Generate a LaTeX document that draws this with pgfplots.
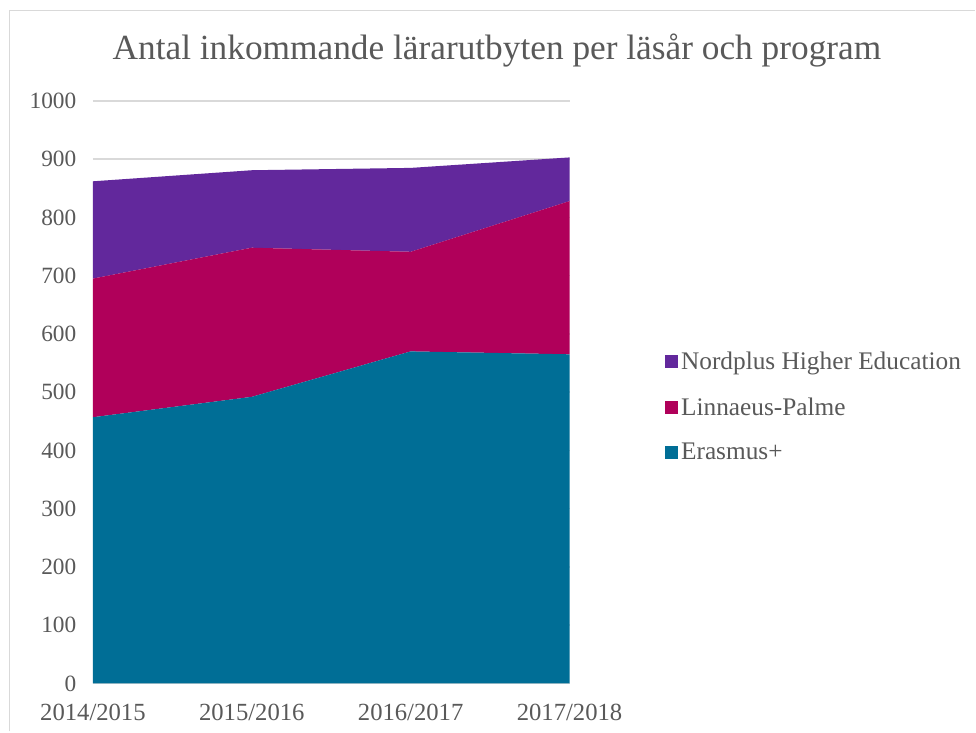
\documentclass[border=0pt]{standalone}
\usepackage{fontspec}
\setmainfont{Liberation Serif}
\usepackage{pgfplots}
\pgfplotsset{compat=1.18}
\definecolor{erasmus}{HTML}{006E96}
\definecolor{linnaeus}{HTML}{B0005A}
\definecolor{nordplus}{HTML}{62289C}
\definecolor{txtgray}{HTML}{595959}
\definecolor{gridgray}{HTML}{D9D9D9}

\begin{document}
\begin{tikzpicture}
% page frame (976x732 px at 0.75pt/px)
\path[fill=white] (0,0) rectangle (732pt,549pt);
\draw[gridgray,line width=1.2pt] (7.1pt,0) -- (7.1pt,541.1pt) -- (732pt,541.1pt);
\node[txtgray,font=\fontsize{26.5}{30}\selectfont] at (373pt,511pt)
  {Antal inkommande lärarutbyten per läsår och program};
\begin{axis}[
  at={(69.75pt,36pt)},anchor=south west,
  scale only axis,width=357.75pt,height=437.25pt,
  stack plots=y,
  xmin=0,xmax=3,ymin=0,ymax=1000,
  xtick={0,1,2,3},
  xticklabels={2014/2015,2015/2016,2016/2017,2017/2018},
  ytick={0,100,...,1000},
  ymajorgrids,grid style={gridgray,line width=1.1pt},
  axis line style={draw=none},
  major tick length=0pt,
  tick label style={txtgray},
  /pgf/number format/assume math mode=true,
  /pgf/number format/1000 sep={},
  xticklabel style={yshift=-12pt,font=\fontsize{18.5}{20}\selectfont},
  yticklabel style={xshift=-9pt,font=\fontsize{17.5}{20}\selectfont},
  legend style={draw=none,fill=none,at={(1.20,0.475)},anchor=west,
    font=\fontsize{19}{22}\selectfont,text=txtgray,
    row sep=15.5pt,inner sep=0pt},
  legend cell align=left,
  reverse legend,
  legend image code/.code={\fill[#1] (0pt,-5pt) rectangle (10pt,5pt);},
]
\addplot[fill=erasmus,draw=none] coordinates {(0,457) (1,492) (2,570) (3,565)} \closedcycle;
\addlegendentry{Erasmus+}
\addplot[fill=linnaeus,draw=none] coordinates {(0,238) (1,256) (2,171) (3,263)} \closedcycle;
\addlegendentry{Linnaeus-Palme}
\addplot[fill=nordplus,draw=none] coordinates {(0,167) (1,133) (2,144) (3,75)} \closedcycle;
\addlegendentry{Nordplus Higher Education}
\end{axis}
\end{tikzpicture}
\end{document}
